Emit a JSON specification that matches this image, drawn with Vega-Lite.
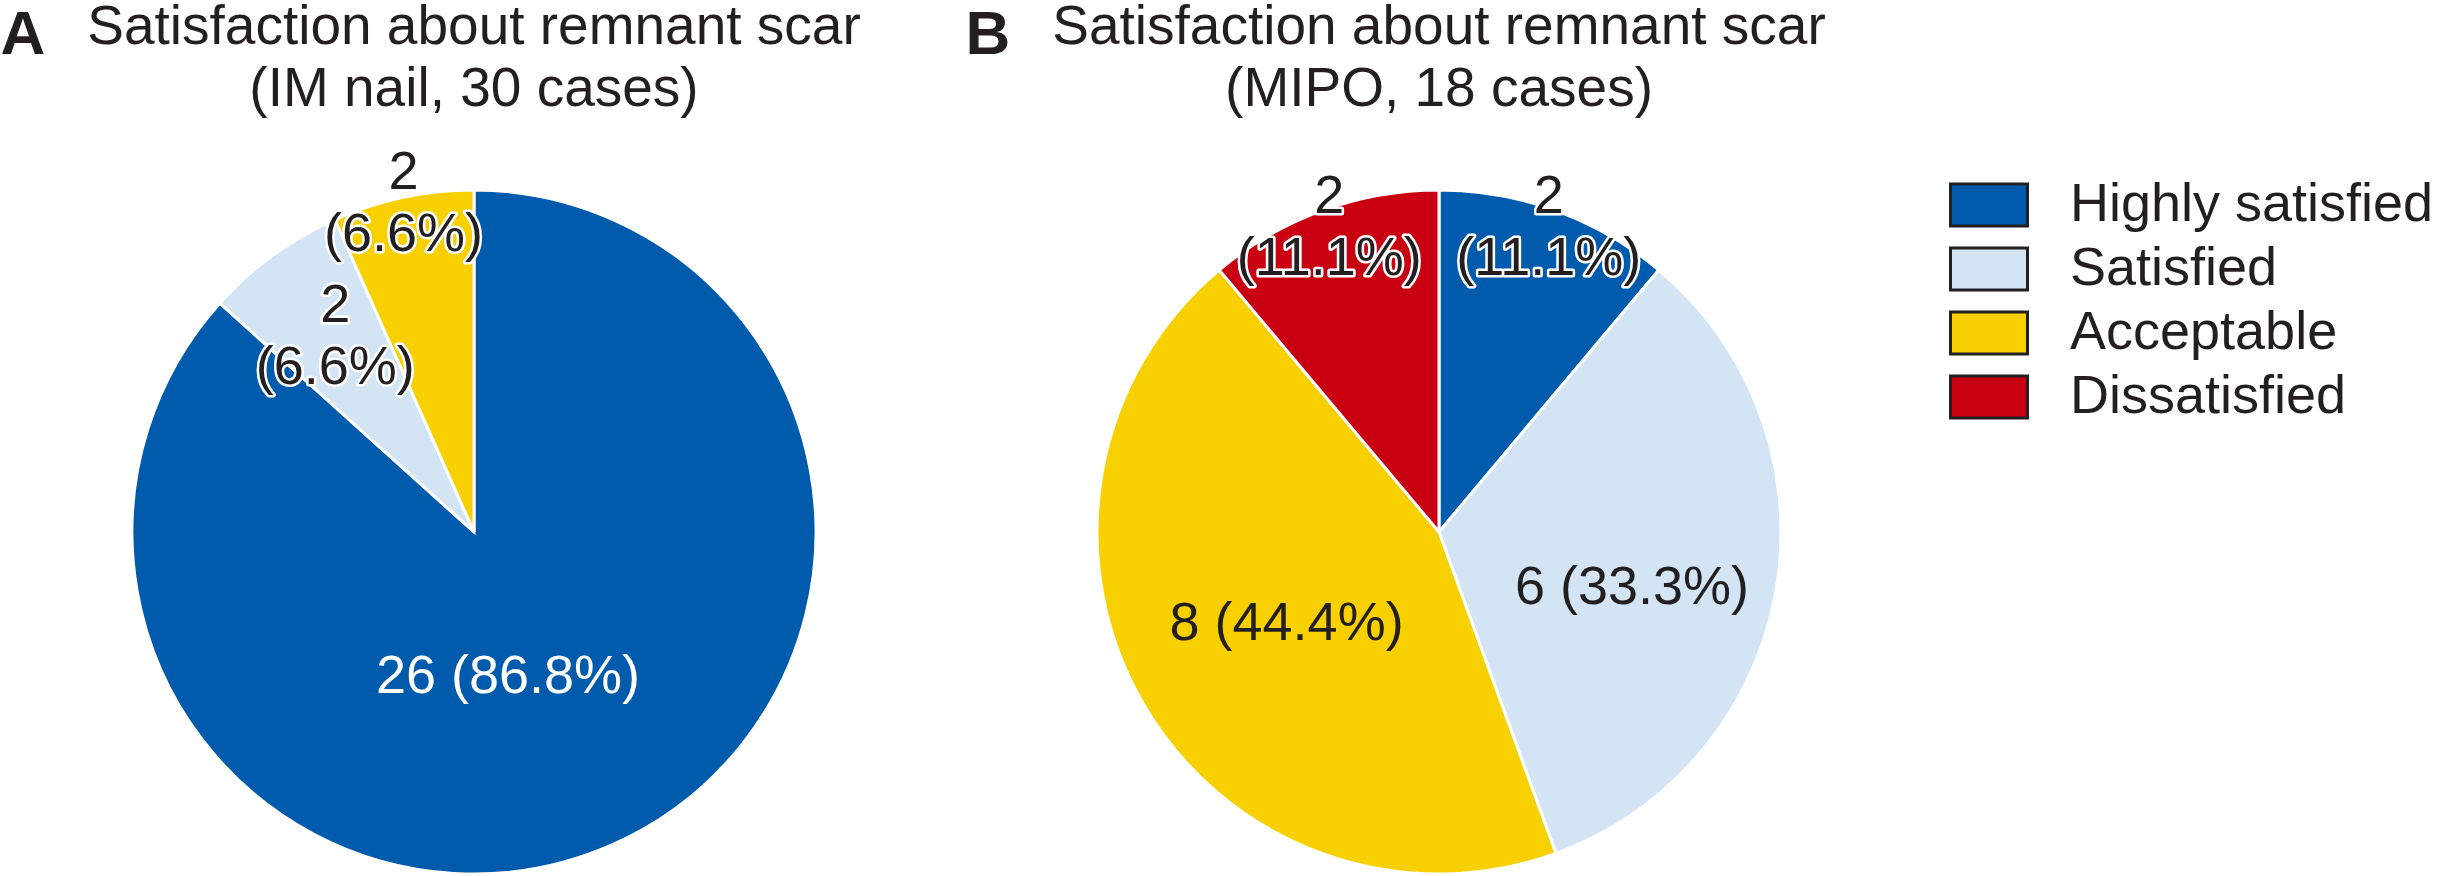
{
  "$schema": "https://vega.github.io/schema/vega-lite/v6.json",
  "background": "white",
  "padding": {"left": 0, "top": 0, "right": 0, "bottom": 0},
  "spacing": 0,
  "config": {
    "view": {"stroke": null},
    "font": "Liberation Sans",
    "concat": {"spacing": 0},
    "legend": {
      "title": null,
      "symbolType": "M-1.833,-1H1.833V1H-1.833Z",
      "symbolSize": 1764,
      "symbolStrokeWidth": 3,
      "symbolStrokeColor": "#231F20",
      "symbolOpacity": 1,
      "labelFontSize": 54,
      "labelFont": "Liberation Sans",
      "labelColor": "#231F20",
      "labelLimit": 600,
      "labelOffset": 54,
      "rowPadding": 10,
      "padding": 0
    },
    "title": {"fontSize": 55, "fontWeight": "normal", "lineHeight": 62, "color": "#231F20", "font": "Liberation Sans", "anchor": "middle", "offset": 12}
  },
  "datasets": {
    "imnail": [
      {"category": "Highly satisfied", "rank": 1, "count": 26, "label": "26 (86.8%)"},
      {"category": "Satisfied", "rank": 2, "count": 2, "label": "2\n(6.6%)"},
      {"category": "Acceptable", "rank": 3, "count": 2, "label": "2\n(6.6%)"}
    ],
    "mipo": [
      {"category": "Highly satisfied", "rank": 1, "count": 2, "label": "2\n(11.1%)"},
      {"category": "Satisfied", "rank": 2, "count": 6, "label": "6 (33.3%)"},
      {"category": "Acceptable", "rank": 3, "count": 8, "label": "8 (44.4%)"},
      {"category": "Dissatisfied", "rank": 4, "count": 2, "label": "2\n(11.1%)"}
    ]
  },
  "hconcat": [
    {
      "width": 44,
      "height": 57,
      "data": {"values": [{"panel": "A"}]},
      "mark": {"type": "text", "fontSize": 62, "fontWeight": "bold", "baseline": "alphabetic", "align": "center", "dy": -105, "color": "#231F20"},
      "encoding": {"text": {"field": "panel", "type": "nominal"}}
    },
    {
      "width": 856,
      "height": 804,
      "title": {"text": ["Satisfaction about remnant scar", "(IM nail, 30 cases)"]},
      "data": {"name": "imnail"},
      "encoding": {
        "theta": {"field": "count", "type": "quantitative", "stack": true},
        "order": {"field": "rank", "type": "quantitative"}
      },
      "layer": [
        {
          "mark": {"type": "arc", "outerRadius": 342, "stroke": "white", "strokeWidth": 3},
          "encoding": {
            "color": {
              "field": "category", "type": "nominal",
              "scale": {"domain": ["Highly satisfied", "Satisfied", "Acceptable", "Dissatisfied"], "range": ["#005BAC", "#D3E4F5", "#F8D000", "#C80012"]},
              "legend": {"orient": "none", "legendX": 1961, "legendY": 48}
            }
          }
        },
        {
          "mark": {"type": "text", "radius": 339, "dy": -27, "fontSize": 54, "lineHeight": 62, "lineBreak": "\n", "baseline": "middle", "stroke": "white", "strokeWidth": 5, "strokeJoin": "round", "fill": "white"},
          "encoding": {"detail": {"field": "category"}, "text": {"condition": {"test": "datum.category === 'Acceptable'", "field": "label"}, "value": ""}}
        },
        {
          "mark": {"type": "text", "radius": 339, "dy": -27, "fontSize": 54, "lineHeight": 62, "lineBreak": "\n", "baseline": "middle", "fill": "#231F20"},
          "encoding": {"detail": {"field": "category"}, "text": {"condition": {"test": "datum.category === 'Acceptable'", "field": "label"}, "value": ""}}
        },
        {
          "mark": {"type": "text", "radius": 236, "dy": -35, "fontSize": 54, "lineHeight": 62, "lineBreak": "\n", "baseline": "middle", "stroke": "white", "strokeWidth": 5, "strokeJoin": "round", "fill": "white"},
          "encoding": {"detail": {"field": "category"}, "text": {"condition": {"test": "datum.category === 'Satisfied'", "field": "label"}, "value": ""}}
        },
        {
          "mark": {"type": "text", "radius": 236, "dy": -35, "fontSize": 54, "lineHeight": 62, "lineBreak": "\n", "baseline": "middle", "fill": "#231F20"},
          "encoding": {"detail": {"field": "category"}, "text": {"condition": {"test": "datum.category === 'Satisfied'", "field": "label"}, "value": ""}}
        },
        {
          "mark": {"type": "text", "radius": 150, "dx": -27, "dy": 8, "fontSize": 54, "baseline": "middle", "fill": "white"},
          "encoding": {"detail": {"field": "category"}, "text": {"condition": {"test": "datum.category === 'Highly satisfied'", "field": "label"}, "value": ""}}
        }
      ]
    },
    {
      "width": 148,
      "height": 57,
      "data": {"values": [{"panel": "B"}]},
      "mark": {"type": "text", "fontSize": 62, "fontWeight": "bold", "baseline": "alphabetic", "align": "center", "dx": 12, "dy": -105, "color": "#231F20"},
      "encoding": {"text": {"field": "panel", "type": "nominal"}}
    },
    {
      "width": 778,
      "height": 804,
      "title": {"text": ["Satisfaction about remnant scar", "(MIPO, 18 cases)"]},
      "data": {"name": "mipo"},
      "encoding": {
        "theta": {"field": "count", "type": "quantitative", "stack": true},
        "order": {"field": "rank", "type": "quantitative"}
      },
      "layer": [
        {
          "mark": {"type": "arc", "outerRadius": 342, "stroke": "white", "strokeWidth": 3},
          "encoding": {
            "color": {
              "field": "category", "type": "nominal",
              "scale": {"domain": ["Highly satisfied", "Satisfied", "Acceptable", "Dissatisfied"], "range": ["#005BAC", "#D3E4F5", "#F8D000", "#C80012"]},
              "legend": {"orient": "none", "legendX": 1961, "legendY": 48}
            }
          }
        },
        {
          "mark": {"type": "text", "radius": 321, "dy": -33, "fontSize": 54, "lineHeight": 62, "lineBreak": "\n", "baseline": "middle", "stroke": "white", "strokeWidth": 5, "strokeJoin": "round", "fill": "white"},
          "encoding": {"detail": {"field": "category"}, "text": {"condition": {"test": "datum.category === 'Highly satisfied' || datum.category === 'Dissatisfied'", "field": "label"}, "value": ""}}
        },
        {
          "mark": {"type": "text", "radius": 321, "dy": -33, "fontSize": 54, "lineHeight": 62, "lineBreak": "\n", "baseline": "middle", "fill": "#231F20"},
          "encoding": {"detail": {"field": "category"}, "text": {"condition": {"test": "datum.category === 'Highly satisfied' || datum.category === 'Dissatisfied'", "field": "label"}, "value": ""}}
        },
        {
          "mark": {"type": "text", "radius": 196, "dy": 22, "fontSize": 54, "baseline": "middle", "fill": "#231F20"},
          "encoding": {"detail": {"field": "category"}, "text": {"condition": {"test": "datum.category === 'Satisfied'", "field": "label"}, "value": ""}}
        },
        {
          "mark": {"type": "text", "radius": 176, "dy": 4, "fontSize": 54, "baseline": "middle", "fill": "#231F20"},
          "encoding": {"detail": {"field": "category"}, "text": {"condition": {"test": "datum.category === 'Acceptable'", "field": "label"}, "value": ""}}
        }
      ]
    }
  ],
  "resolve": {"scale": {"theta": "independent", "color": "shared"}, "legend": {"color": "shared"}}
}
